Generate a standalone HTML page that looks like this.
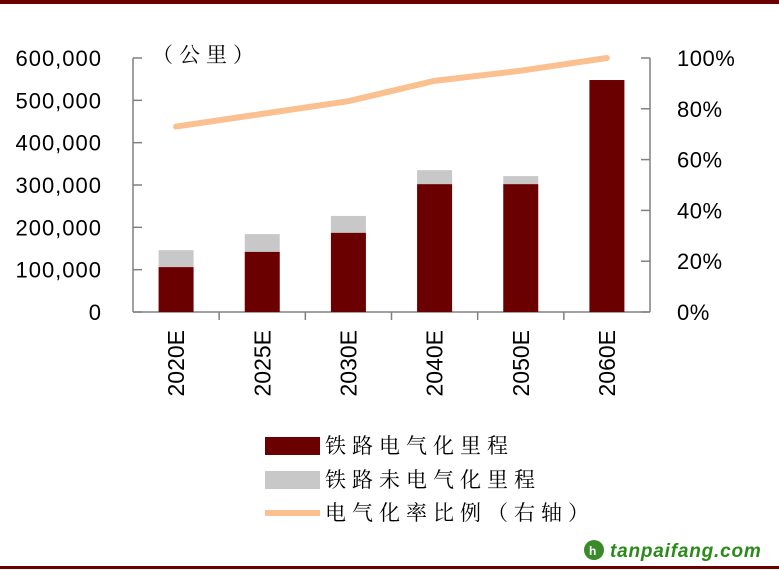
<!DOCTYPE html>
<html><head><meta charset="utf-8"><style>
body{margin:0;background:#fff;}
svg{display:block;font-family:"Liberation Sans","Noto Sans CJK SC",sans-serif;}
</style></head><body>
<svg id="c" width="779" height="570">
<rect x="0" y="0" width="779" height="4" fill="#6b0000"/>
<rect x="0" y="566" width="779" height="3" fill="#6b0000"/>
<text x="152" y="62" font-size="21" fill="#000" letter-spacing="6" font-family="'Noto Serif CJK SC',serif">（公里）</text>
<g id="g"></g>
<g>
<rect x="265" y="437" width="55" height="18" fill="#6b0000"/>
<text x="325" y="453" font-size="21" letter-spacing="6" font-family="'Noto Serif CJK SC',serif">铁路电气化里程</text>
<rect x="265" y="471" width="55" height="18" fill="#c8c8c8"/>
<text x="325" y="487" font-size="21" letter-spacing="6" font-family="'Noto Serif CJK SC',serif">铁路未电气化里程</text>
<line x1="265" y1="513" x2="320" y2="513" stroke="#fac090" stroke-width="6"/>
<text x="325" y="520" font-size="21" letter-spacing="6" font-family="'Noto Serif CJK SC',serif">电气化率比例（右轴）</text>
</g>
<g>
<circle cx="594" cy="550" r="10" fill="#3a8a2a"/>
<text x="589" y="555" font-size="12" fill="#fff" font-weight="bold">h</text>
<text x="610" y="557" font-size="19" font-weight="bold" fill="#2a8a1a" font-style="italic" letter-spacing="0.8">tanpaifang.com</text>
</g>
</svg>
<script>
const categories=["2020E","2025E","2030E","2040E","2050E","2060E"];
const electrified=[106000,142000,187000,302000,302000,548000];
const nonElectrified=[40000,42000,40000,33000,19000,0];
const rate=[73,78,83,91,95,100];
const leftTicks=[0,100000,200000,300000,400000,500000,600000];
const rightTicks=[0,20,40,60,80,100];
const NS="http://www.w3.org/2000/svg";
const g=document.getElementById('g');
const X0=133,X1=650,Y0=312,Y1=58;
const yL=v=>Y0-(v/600000)*(Y0-Y1);
const yR=v=>Y0-(v/100)*(Y0-Y1);
const bw=(X1-X0)/categories.length;
const xC=i=>X0+bw*(i+0.5);
function mk(t,a){const e=document.createElementNS(NS,t);for(const k in a)e.setAttribute(k,a[k]);g.appendChild(e);return e;}
let e;
e=mk('line',{x1:X0,y1:Y1,x2:X0,y2:Y0,stroke:'#808080','stroke-width':1.5});


e=mk('line',{x1:X1,y1:Y1,x2:X1,y2:Y0,stroke:'#808080','stroke-width':1.5});


e=mk('line',{x1:X0,y1:Y0,x2:X1,y2:Y0,stroke:'#808080','stroke-width':1.5});


leftTicks.forEach(v=>{
 mk('line',{x1:X0,y1:yL(v),x2:X0+9,y2:yL(v),stroke:'#808080','stroke-width':1.5});
 e=mk('text',{x:102,y:yL(v)+8,'font-size':22,'text-anchor':'end','letter-spacing':1});
 e.textContent=v.toLocaleString('en-US');
 
 
});
rightTicks.forEach(v=>{
 mk('line',{x1:X1-9,y1:yR(v),x2:X1,y2:yR(v),stroke:'#808080','stroke-width':1.5});
 e=mk('text',{x:677,y:yR(v)+8,'font-size':22,'letter-spacing':0.5});
 e.textContent=v+'%';
 
 
});
for(let i=1;i<categories.length;i++){mk('line',{x1:X0+bw*i,y1:Y0,x2:X0+bw*i,y2:Y0+8,stroke:'#808080','stroke-width':1.5});}
categories.forEach((c,i)=>{
 const x=xC(i);
 const tot=electrified[i]+nonElectrified[i];
 if(nonElectrified[i]>0){
 e=mk('rect',{x:x-17.5,y:yL(tot),width:35,height:yL(electrified[i])-yL(tot),fill:'#c8c8c8'});
 
 
 }
 e=mk('rect',{x:x-17.5,y:yL(electrified[i]),width:35,height:Y0-yL(electrified[i]),fill:'#6b0000'});
 
 
 e=mk('text',{x:0,y:0,'font-size':23,'text-anchor':'end',transform:`translate(${x+8},330) rotate(-90)`});
 e.textContent=c;
 
 
});
e=mk('polyline',{points:rate.map((v,i)=>xC(i)+','+yR(v)).join(' '),fill:'none',stroke:'#fac090','stroke-width':6,'stroke-linecap':'round'});


</script>
</body></html>
